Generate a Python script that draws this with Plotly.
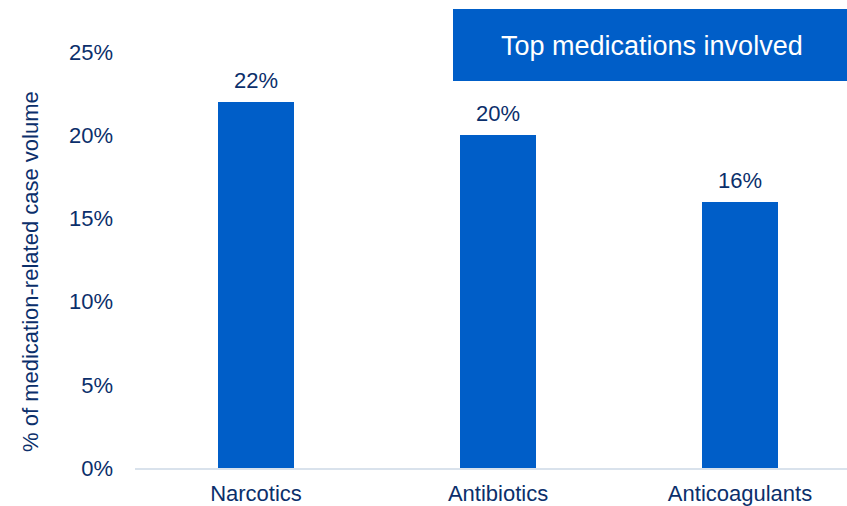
import plotly.graph_objects as go

categories = ["Narcotics", "Antibiotics", "Anticoagulants"]
values = [22, 20, 16]
y_ticks = [0, 5, 10, 15, 20, 25]
y_tick_labels = [f"{v}%" for v in y_ticks]

bar_color = "#005EC8"
text_color = "#0B2F6B"
font_family = "Liberation Sans, Arial, sans-serif"

W, H = 847, 506
L, R, T, B = 135, 0, 52, 38
pw, ph = W - L - R, H - T - B

xs = list(range(len(categories)))
fig = go.Figure(go.Bar(
    x=xs,
    y=values,
    width=0.314,
    marker=dict(color=bar_color, line=dict(width=0)),
    cliponaxis=False,
))

for xi, v in zip(xs, values):
    fig.add_annotation(x=xi, y=v, xref="x", yref="y", text=f"{v}%",
                       showarrow=False, xanchor="center", yanchor="bottom",
                       yshift=7, font=dict(size=22, color=text_color, family=font_family))

def px_x(p):
    return (p - L) / pw

def px_y(p):
    return (H - B - p) / ph

fig.update_layout(
    width=W, height=H,
    margin=dict(l=L, r=R, t=T, b=B, pad=0),
    paper_bgcolor="white", plot_bgcolor="white",
    showlegend=False,
    font=dict(family=font_family, color=text_color, size=22),
    xaxis=dict(
        tickmode="array", tickvals=xs, ticktext=categories,
        range=[-0.5, 2.442], showgrid=False, zeroline=False,
        showline=True, linecolor="#D9E2EC", linewidth=2,
        ticks="", ticklabelstandoff=5,
        tickfont=dict(size=22, color=text_color),
    ),
    yaxis=dict(
        range=[0, 25], tickmode="array", tickvals=y_ticks, ticktext=y_tick_labels,
        showgrid=False, zeroline=False, showline=False, ticks="",
        ticklabelstandoff=21,
        tickfont=dict(size=22, color=text_color),
    ),
    bargap=0,
)

fig.add_shape(type="rect", xref="paper", yref="paper",
              x0=px_x(453), x1=px_x(847), y0=px_y(81), y1=px_y(9),
              fillcolor=bar_color, line=dict(width=0), layer="above")
fig.add_annotation(xref="paper", yref="paper", x=px_x(652), y=px_y(46),
                   text="Top medications involved", showarrow=False,
                   font=dict(size=27, color="white", family=font_family),
                   xanchor="center", yanchor="middle")
fig.add_annotation(xref="paper", yref="paper", x=px_x(30), y=px_y(272),
                   text="% of medication-related case volume", showarrow=False,
                   textangle=-90, font=dict(size=22, color=text_color, family=font_family),
                   xanchor="center", yanchor="middle")

fig.write_html("out.html")
